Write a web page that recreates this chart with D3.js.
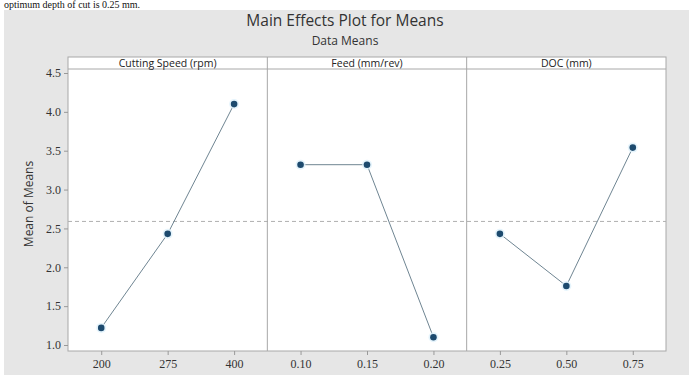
<!DOCTYPE html>
<html><head><meta charset="utf-8">
<script src="https://cdn.jsdelivr.net/npm/d3@7"></script>
<style>body{margin:0;background:#fff}svg{display:block}</style>
</head><body>
<script>
const factors = ["Cutting Speed (rpm)", "Feed (mm/rev)", "DOC (mm)"];
const speedLevels = ["200", "275", "400"];
const speedMeans = [1.22, 2.43, 4.10];
const feedLevels = ["0.10", "0.15", "0.20"];
const feedMeans = [3.32, 3.32, 1.10];
const docLevels = ["0.25", "0.50", "0.75"];
const docMeans = [2.43, 1.76, 3.54];
const yTicks = [1.0, 1.5, 2.0, 2.5, 3.0, 3.5, 4.0, 4.5];
const grandMean = 2.59;

const levels = [speedLevels, feedLevels, docLevels];
const means = [speedMeans, feedMeans, docMeans];

const W = 689, H = 375;
const svg = d3.select("body").append("svg").attr("width", W).attr("height", H);

// caption line from the surrounding page (partly visible above the figure)
svg.append("text").attr("x", 4).attr("y", 8)
  .attr("font-family", "Liberation Serif, Times New Roman, serif").attr("font-size", 10)
  .attr("fill", "#111").text("optimum depth of cut is 0.25 mm.");

svg.append("rect").attr("x", 4).attr("y", 10).attr("width", W - 4).attr("height", H - 10).attr("fill", "#e6e6e6");

const pLeft = 68, pRight = 666, pTop = 57, headerH = 12, pBottom = 351;
const panelW = (pRight - pLeft) / 3;

const y = d3.scaleLinear().domain([1.0, 4.5]).range([345, 73]);

svg.append("text").attr("x", 345).attr("y", 26).attr("text-anchor", "middle")
  .attr("font-family", "Open Sans, DejaVu Sans, sans-serif").attr("font-size", 15.5).attr("fill", "#333")
  .text("Main Effects Plot for Means");
svg.append("text").attr("x", 345).attr("y", 45).attr("text-anchor", "middle")
  .attr("font-family", "Open Sans, DejaVu Sans, sans-serif").attr("font-size", 12).attr("fill", "#333")
  .text("Data Means");

// plot area
svg.append("rect").attr("x", pLeft).attr("y", pTop).attr("width", pRight - pLeft).attr("height", pBottom - pTop)
  .attr("fill", "#fff").attr("stroke", "#a8a8a8").attr("stroke-width", 1);
svg.append("line").attr("x1", pLeft).attr("x2", pRight).attr("y1", pTop + headerH).attr("y2", pTop + headerH)
  .attr("stroke", "#a8a8a8");

// y axis
const yAxis = d3.axisLeft(y).tickValues(yTicks).tickFormat(d3.format(".1f")).tickSize(4).tickPadding(3);
const ya = svg.append("g").attr("transform", `translate(${pLeft},0)`).call(yAxis);
ya.select(".domain").remove();
ya.selectAll("line").attr("stroke", "#999");
ya.selectAll("text").attr("font-family", "Liberation Serif, Times New Roman, serif").attr("font-size", 12).attr("fill", "#333");

svg.append("text").attr("transform", `translate(33,${(pTop + pBottom) / 2}) rotate(-90)`)
  .attr("text-anchor", "middle").attr("font-family", "Open Sans, DejaVu Sans, sans-serif")
  .attr("font-size", 12).attr("fill", "#333").text("Mean of Means");

// grand mean reference line
svg.append("line").attr("x1", pLeft).attr("x2", pRight).attr("y1", y(grandMean)).attr("y2", y(grandMean))
  .attr("stroke", "#b0b0b0").attr("stroke-dasharray", "4,3");

factors.forEach((f, i) => {
  const x0 = pLeft + i * panelW;
  const x = d3.scalePoint().domain(levels[i]).range([x0, x0 + panelW]).padding(0.5);
  if (i > 0) {
    svg.append("line").attr("x1", x0).attr("x2", x0).attr("y1", pTop).attr("y2", pBottom).attr("stroke", "#a8a8a8");
  }
  svg.append("text").attr("x", x0 + panelW / 2).attr("y", pTop + 10).attr("text-anchor", "middle")
    .attr("font-family", "Open Sans, DejaVu Sans, sans-serif").attr("font-size", 10.5).attr("fill", "#222").text(f);

  const xa = svg.append("g").attr("transform", `translate(0,${pBottom})`)
    .call(d3.axisBottom(x).tickSize(4).tickPadding(4));
  xa.select(".domain").remove();
  xa.selectAll("line").attr("stroke", "#999");
  xa.selectAll("text").attr("font-family", "Liberation Serif, Times New Roman, serif").attr("font-size", 12).attr("fill", "#333");

  const data = levels[i].map((l, j) => ({ l, v: means[i][j] }));
  svg.append("path").datum(data)
    .attr("d", d3.line().x(d => x(d.l)).y(d => y(d.v)))
    .attr("fill", "none").attr("stroke", "#6f8592").attr("stroke-width", 1);
  svg.selectAll(null).data(data).enter().append("circle")
    .attr("cx", d => x(d.l)).attr("cy", d => y(d.v)).attr("r", 5)
    .attr("fill", "#dff1fb").attr("opacity", 0.8);
  svg.selectAll(null).data(data).enter().append("circle")
    .attr("cx", d => x(d.l)).attr("cy", d => y(d.v)).attr("r", 3.3)
    .attr("fill", "#1d4a6e");
});
</script>
</body></html>
